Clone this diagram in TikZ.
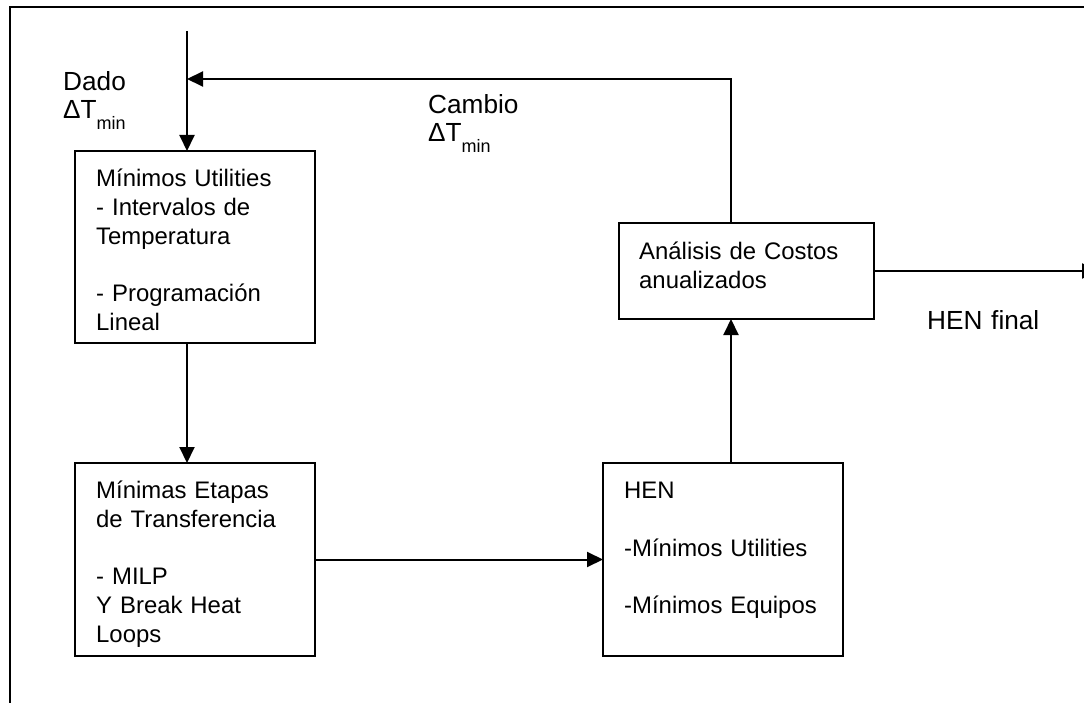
\documentclass[tikz,border=0pt]{standalone}
\usepackage{fontspec}
\setmainfont{Liberation Sans}
\usetikzlibrary{arrows.meta}
% Delta T with a lowered "min" subscript
\newcommand{\dTmin}{ΔT\raisebox{-11pt}{\fontsize{18}{18}\selectfont min}}
\begin{document}
\begin{tikzpicture}[x=1pt,y=-1pt,
  box/.style={draw, line width=2pt, inner sep=0pt, outer sep=0pt, anchor=north west},
  boxtext/.style={anchor=base west, inner sep=0pt, align=left, text width=250pt,
                  font=\fontsize{23.9}{28.8}\selectfont},
  lbl/.style={anchor=base west, inner sep=0pt, align=left, text width=150pt,
              font=\fontsize{26.2}{28}\selectfont},
  wire/.style={line width=2pt},
  flow/.style={line width=2pt, -{Triangle[length=16pt,width=15pt]}}]
\useasboundingbox (0,0) rectangle (1084,703);
\clip (0,0) rectangle (1084,703);

% outer frame (top and left edges)
\draw[wire] (10,704) -- (10,7) -- (1086,7);

% process boxes
\node[box, minimum width=240pt, minimum height=192pt] (mu)   at (75,151)  {};
\node[box, minimum width=240pt, minimum height=193pt] (me)   at (75,463)  {};
\node[box, minimum width=240pt, minimum height=193pt] (hen)  at (603,463) {};
\node[box, minimum width=255pt, minimum height=96pt]  (cost) at (619,223) {};

% box contents
\node[boxtext] (mutext) at (96,186.5)
  {Mínimos Utilities\\- Intervalos de\\Temperatura\\[28.8pt]- Programación\\Lineal};
\node[boxtext] (metext) at (96,498.5)
  {Mínimas Etapas\\de Transferencia\\[28.8pt]- MILP\\Y Break Heat\\Loops};
\node[boxtext] (hentext) at (624,498.5)
  {HEN\\[28.8pt]-Mínimos Utilities\\[28.8pt]-Mínimos Equipos};
\node[boxtext] (costtext) at (639,259.5)
  {Análisis de Costos\\anualizados};

% free labels
\node[lbl] (dado)   at (63,91)   {Dado\\\dTmin};
\node[lbl] (cambio) at (428,114) {Cambio\\\dTmin};
\node[lbl] (final)  at (927,330) {HEN final};

% connector points
\coordinate (src)   at (187,31);
\coordinate (join)  at (187,79);
\coordinate (riser) at (731,79);
\coordinate (out)   at (1098,271);

% connectors
\draw[flow] (src) -- (src |- mu.north);
\draw[flow] (src |- mu.south) -- (src |- me.north);
\draw[flow] (me.east) -- (hen.west);
\draw[flow] (riser |- hen.north) -- (riser |- cost.south);
\draw[flow] (riser |- cost.north) -- (riser) -- (join);
\draw[flow] (cost.east) -- (out);
\end{tikzpicture}
\end{document}
